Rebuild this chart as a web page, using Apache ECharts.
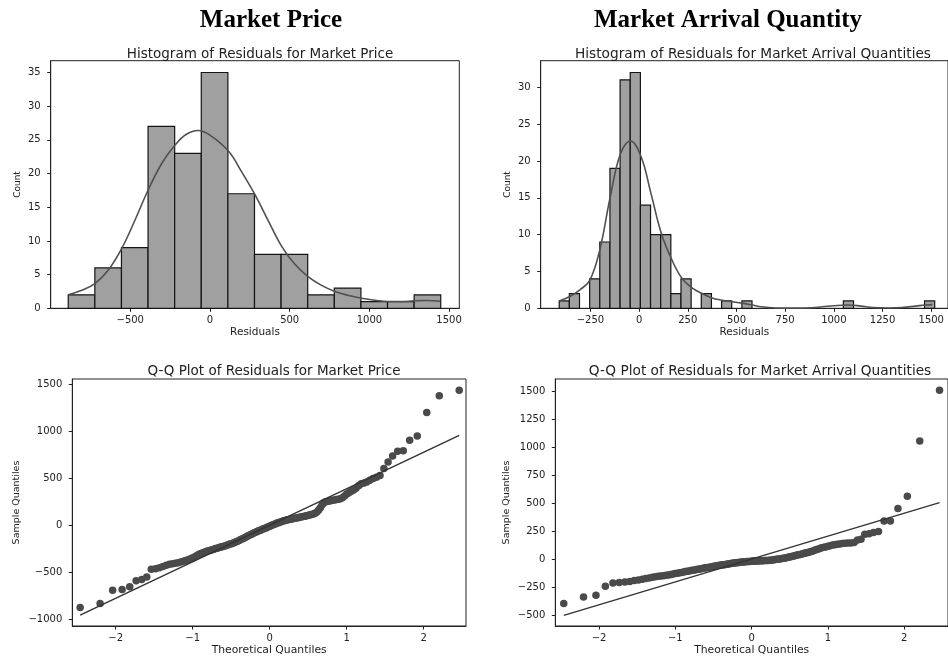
<!DOCTYPE html>
<html>
<head>
<meta charset="utf-8">
<title>Residual diagnostics</title>
<script src="https://cdn.jsdelivr.net/npm/echarts@6/dist/echarts.min.js"></script>
<style>
  html, body { margin: 0; padding: 0; background: #fff; }
  #chart { width: 948px; height: 659px; }
</style>
</head>
<body>
<div id="chart"></div>
<script>
// ---- Histogram of market price residuals ----
const priceBinEdges = [-889, -722.1, -555.2, -388.3, -221.4, -54.5, 112.4, 279.3, 446.2, 613.1, 780, 946.9, 1113.8, 1280.7, 1447.6];
const priceCounts = [2, 6, 9, 27, 23, 35, 17, 8, 8, 2, 3, 1, 1, 2];
const priceKdeX = [-889, -800, -720, -640, -553, -470, -387, -300, -220, -150, -73, 0, 117, 200, 284, 370, 450, 530, 615, 700, 784, 870, 951, 1035, 1118, 1200, 1280, 1360, 1443];
const priceKdeY = [2.0, 2.7, 3.7, 5.6, 8.9, 13.1, 17.6, 21.6, 24.2, 25.8, 26.4, 25.7, 23.3, 20.2, 16.8, 12.8, 9.2, 6.6, 4.7, 3.4, 2.5, 1.9, 1.5, 1.2, 1.0, 1.0, 1.1, 1.15, 1.05];

// ---- Histogram of market arrival quantity residuals ----
const arrivalBinEdges = [-410, -357.9, -305.8, -253.7, -201.6, -149.5, -97.4, -45.3, 6.8, 58.9, 111, 163.1, 215.2, 267.3, 319.4, 371.5, 423.6, 475.7, 527.8, 579.9, 632, 684.1, 736.2, 788.3, 840.4, 892.5, 944.6, 996.7, 1048.8, 1100.9, 1153, 1205.1, 1257.2, 1309.3, 1361.4, 1413.5, 1465.6, 1517.7];
const arrivalCounts = [1, 2, 0, 4, 9, 19, 31, 32, 14, 10, 10, 2, 4, 0, 2, 0, 1, 0, 1, 0, 0, 0, 0, 0, 0, 0, 0, 0, 1, 0, 0, 0, 0, 0, 0, 0, 1];
const arrivalKdeX = [-410, -355, -304, -253, -202, -148, -95, -44, 10, 61, 114, 168, 219, 270, 324, 375, 426, 477, 528, 580, 630, 700, 780, 860, 940, 1000, 1072, 1140, 1200, 1280, 1350, 1420, 1470, 1505];
const arrivalKdeY = [1.0, 1.6, 2.5, 3.8, 7.9, 15.1, 21.0, 22.7, 20.6, 15.6, 10.2, 6.6, 4.1, 2.8, 2.0, 1.4, 1.1, 0.9, 0.7, 0.45, 0.2, 0.05, 0.02, 0.05, 0.2, 0.35, 0.45, 0.3, 0.1, 0.05, 0.1, 0.3, 0.45, 0.5];

// ---- Q-Q plots: theoretical normal quantiles (n = 144) and sorted residuals ----
const theoreticalQuantiles = [
  -2.462, -2.203, -2.040, -1.917, -1.818, -1.735, -1.662, -1.597, -1.538, -1.483,
  -1.433, -1.387, -1.343, -1.301, -1.262, -1.225, -1.189, -1.155, -1.121, -1.090,
  -1.059, -1.029, -1.000, -0.972, -0.945, -0.918, -0.892, -0.867, -0.842, -0.817,
  -0.793, -0.770, -0.747, -0.725, -0.702, -0.680, -0.658, -0.637, -0.616, -0.595,
  -0.575, -0.554, -0.534, -0.514, -0.495, -0.475, -0.456, -0.437, -0.418, -0.399,
  -0.381, -0.362, -0.344, -0.326, -0.308, -0.290, -0.272, -0.253, -0.236, -0.218,
  -0.200, -0.183, -0.165, -0.148, -0.130, -0.113, -0.095, -0.078, -0.061, -0.043,
  -0.026, -0.009, 0.009, 0.026, 0.043, 0.061, 0.078, 0.095, 0.113, 0.130,
  0.148, 0.165, 0.183, 0.200, 0.218, 0.236, 0.253, 0.272, 0.290, 0.308,
  0.326, 0.344, 0.362, 0.381, 0.399, 0.418, 0.437, 0.456, 0.475, 0.495,
  0.514, 0.534, 0.554, 0.575, 0.595, 0.616, 0.637, 0.658, 0.680, 0.702,
  0.725, 0.747, 0.770, 0.793, 0.817, 0.842, 0.867, 0.892, 0.918, 0.945,
  0.972, 1.000, 1.029, 1.059, 1.090, 1.121, 1.155, 1.189, 1.225, 1.262,
  1.301, 1.343, 1.387, 1.433, 1.483, 1.538, 1.597, 1.662, 1.735, 1.818,
  1.917, 2.040, 2.203, 2.462
];
const priceSampleQuantiles = [
  -874, -831, -690, -683, -654, -590, -577, -550, -467, -462,
  -452, -440, -425, -415, -410, -405, -398, -390, -382, -374,
  -366, -357, -345, -335, -322, -310, -300, -292, -285, -278,
  -272, -266, -260, -255, -249, -244, -238, -233, -228, -223,
  -218, -212, -206, -201, -196, -190, -184, -177, -170, -162,
  -155, -148, -141, -133, -125, -117, -110, -102, -95, -88,
  -80, -74, -68, -62, -56, -50, -44, -38, -32, -26,
  -20, -14, -8, -2, 4, 10, 16, 22, 27, 32,
  36, 41, 46, 50, 54, 57, 60, 64, 67, 70,
  73, 76, 79, 82, 86, 89, 92, 96, 100, 104,
  108, 112, 117, 122, 130, 142, 160, 185, 215, 238,
  248, 252, 256, 260, 264, 268, 272, 276, 281, 292,
  310, 330, 345, 360, 375, 392, 420, 440, 448, 460,
  478, 495, 510, 528, 601, 672, 736, 785, 790, 902,
  948, 1196, 1376, 1433
];
const arrivalSampleQuantiles = [
  -395, -336, -321, -241, -211, -208, -203, -198, -190, -184,
  -178, -172, -166, -160, -156, -152, -149, -146, -143, -140,
  -136, -132, -128, -124, -120, -117, -113, -110, -107, -104,
  -101, -98, -95, -92, -89, -86, -84, -81, -78, -76,
  -73, -71, -68, -66, -63, -61, -58, -56, -54, -52,
  -50, -48, -46, -44, -42, -40, -38, -36, -34, -33,
  -31, -30, -28, -27, -25, -24, -23, -22, -21, -20,
  -19, -18, -17, -16, -16, -15, -15, -14, -14, -13,
  -13, -12, -12, -11, -10, -9, -8, -7, -5, -3,
  -1, 1, 3, 5, 7, 9, 11, 14, 17, 20,
  23, 27, 30, 34, 37, 40, 43, 47, 51, 55,
  59, 63, 67, 72, 78, 84, 90, 96, 102, 106,
  110, 115, 120, 126, 130, 134, 137, 140, 142, 144,
  146, 150, 172, 178, 222, 228, 238, 248, 342, 342,
  452, 562, 1055, 1507
];
// Reference lines (standardized fit) endpoints
const priceLineX = [-2.462, 2.462];
const priceLineY = [-955, 955];
const arrivalLineX = [-2.462, 2.462];
const arrivalLineY = [-500, 505];

// ---- Tick labels ----
const priceHistXTicks = [-500, 0, 500, 1000, 1500];
const priceHistYTicks = [0, 5, 10, 15, 20, 25, 30, 35];
const arrivalHistXTicks = [-250, 0, 250, 500, 750, 1000, 1250, 1500];
const arrivalHistYTicks = [0, 5, 10, 15, 20, 25, 30];
const qqXTicks = [-2, -1, 0, 1, 2];
const priceQqYTicks = [-1000, -500, 0, 500, 1000, 1500];
const arrivalQqYTicks = [-500, -250, 0, 250, 500, 750, 1000, 1250, 1500];

// ---- Helpers ----
const INK = '#222';
const SANS = 'DejaVu Sans';
const minusFmt = v => String(v).replace('-', '\u2212');

function binRows(edges, counts) {
  return counts.map((c, i) => [edges[i], edges[i + 1], c]);
}
function zipXY(xs, ys) {
  return xs.map((x, i) => [x, ys[i]]);
}
function histItem(params, api) {
  const c = api.value(2);
  if (!c) return null;
  const p0 = api.coord([api.value(0), c]);
  const p1 = api.coord([api.value(1), 0]);
  return {
    type: 'rect',
    shape: { x: p0[0], y: p0[1], width: p1[0] - p0[0], height: p1[1] - p0[1] },
    style: { fill: '#a0a0a0', stroke: '#151515', lineWidth: 1.2 }
  };
}
function makeAxis(kind, gridIndex, min, max, ticks, name, nameGap, nameSize) {
  return {
    type: 'value', gridIndex, min, max,
    name, nameLocation: 'middle', nameGap,
    nameTextStyle: { fontFamily: SANS, fontSize: nameSize, color: INK },
    splitLine: { show: false },
    axisLine: { show: true, onZero: false, lineStyle: { color: INK, width: 1 } },
    axisTick: { show: true, length: 3.5, lineStyle: { color: INK, width: 1 }, customValues: ticks },
    axisLabel: {
      fontFamily: SANS, fontSize: 10, color: INK,
      margin: kind === 'x' ? 7 : 10,
      customValues: ticks, formatter: minusFmt, hideOverlap: false
    }
  };
}
function gridBox(left, top, width, height) {
  return { left, top, width, height, show: true, borderColor: INK, borderWidth: 1, backgroundColor: 'transparent', containLabel: false };
}
function heading(text, left, top) {
  return { text, left, top, textAlign: 'center',
    textStyle: { fontFamily: 'Liberation Serif', fontWeight: 'bold', fontSize: 25, color: '#000' } };
}
function panelTitle(text, left, top, size) {
  return { text, left, top, textAlign: 'center',
    textStyle: { fontFamily: SANS, fontWeight: 'normal', fontSize: size, color: INK } };
}

const chart = echarts.init(document.getElementById('chart'), null, { renderer: 'canvas' });

chart.setOption({
  animation: false,
  backgroundColor: '#fff',
  title: [
    heading('Market Price', 266, 3),
    heading('Market Arrival Quantity', 723, 3),
    panelTitle('Histogram of Residuals for Market Price', 255, 42, 13.5),
    panelTitle('Histogram of Residuals for Market Arrival Quantities', 748, 42, 13.7),
    panelTitle('Q-Q Plot of Residuals for Market Price', 269, 359, 13.5),
    panelTitle('Q-Q Plot of Residuals for Market Arrival Quantities', 755, 359, 13.7)
  ],
  grid: [
    gridBox(50.7, 60.7, 408.6, 247.6),
    gridBox(540.7, 60.7, 410.3, 247.6),
    gridBox(72.3, 379, 393.7, 247),
    gridBox(555.3, 379, 401.4, 247)
  ],
  xAxis: [
    makeAxis('x', 0, -999, 1564, priceHistXTicks, 'Residuals', 18.5, 10.5),
    makeAxis('x', 1, -505, 1586, arrivalHistXTicks, 'Residuals', 18.5, 10.5),
    makeAxis('x', 2, -2.564, 2.55, qqXTicks, 'Theoretical Quantiles', 19, 10.8),
    makeAxis('x', 3, -2.573, 2.573, qqXTicks, 'Theoretical Quantiles', 19, 10.8)
  ],
  yAxis: [
    makeAxis('y', 0, 0, 36.75, priceHistYTicks, 'Count', 29, 9),
    makeAxis('y', 1, 0, 33.6, arrivalHistYTicks, 'Count', 29, 9),
    makeAxis('y', 2, -1071, 1553, priceQqYTicks, 'Sample Quantiles', 51, 9.5),
    makeAxis('y', 3, -595, 1607, arrivalQqYTicks, 'Sample Quantiles', 44, 9.5)
  ],
  series: [
    { type: 'custom', xAxisIndex: 0, yAxisIndex: 0, renderItem: histItem,
      encode: { x: [0, 1], y: 2 }, data: binRows(priceBinEdges, priceCounts), z: 2 },
    { type: 'line', xAxisIndex: 0, yAxisIndex: 0, data: zipXY(priceKdeX, priceKdeY),
      smooth: 0.4, symbol: 'none', lineStyle: { color: '#505050', width: 1.6 }, z: 3 },
    { type: 'custom', xAxisIndex: 1, yAxisIndex: 1, renderItem: histItem,
      encode: { x: [0, 1], y: 2 }, data: binRows(arrivalBinEdges, arrivalCounts), z: 2 },
    { type: 'line', xAxisIndex: 1, yAxisIndex: 1, data: zipXY(arrivalKdeX, arrivalKdeY),
      smooth: 0.4, symbol: 'none', lineStyle: { color: '#505050', width: 1.6 }, z: 3 },
    { type: 'scatter', xAxisIndex: 2, yAxisIndex: 2, data: zipXY(theoreticalQuantiles, priceSampleQuantiles),
      symbolSize: 7.5, itemStyle: { color: '#4a4a4a', opacity: 1 }, z: 2 },
    { type: 'line', xAxisIndex: 2, yAxisIndex: 2, data: zipXY(priceLineX, priceLineY),
      symbol: 'none', lineStyle: { color: '#333', width: 1.4 }, z: 3 },
    { type: 'scatter', xAxisIndex: 3, yAxisIndex: 3, data: zipXY(theoreticalQuantiles, arrivalSampleQuantiles),
      symbolSize: 7.5, itemStyle: { color: '#4a4a4a', opacity: 1 }, z: 2 },
    { type: 'line', xAxisIndex: 3, yAxisIndex: 3, data: zipXY(arrivalLineX, arrivalLineY),
      symbol: 'none', lineStyle: { color: '#333', width: 1.4 }, z: 3 }
  ]
});
</script>
</body>
</html>
